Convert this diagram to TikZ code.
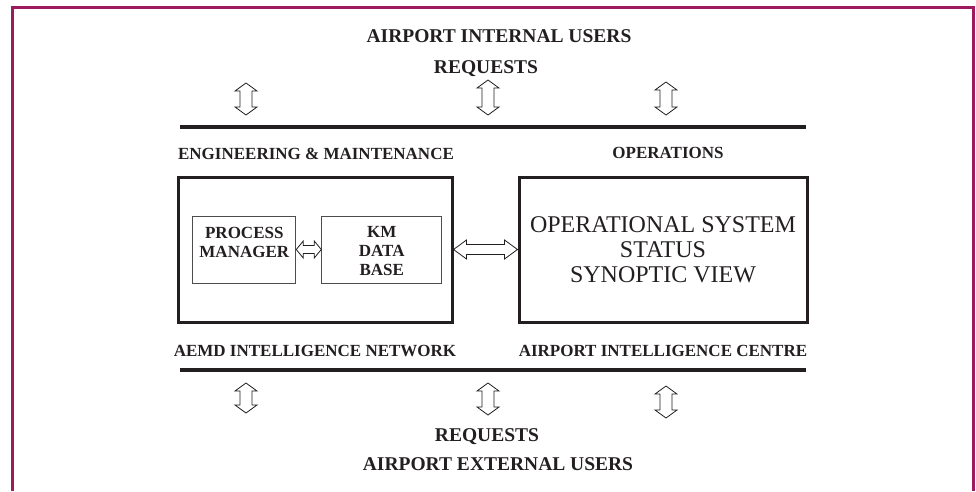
\documentclass[tikz,border=0pt]{standalone}
\usepackage{fontspec}
\setmainfont{Liberation Serif}
\usetikzlibrary{calc}
\definecolor{framec}{RGB}{158,26,94}
\definecolor{ink}{RGB}{35,31,32}
% hollow horizontal double arrow between two points: #1 left, #2 right, #3 head length, #4 head half width, #5 shaft half width
\newcommand\hollowh[5]{\draw[hollow] (#1) -- ($(#1)+(#3,#4)$) -- ($(#1)+(#3,#5)$) -- ($(#2)+(-#3,#5)$) -- ($(#2)+(-#3,#4)$) -- (#2) -- ($(#2)+(-#3,-#4)$) -- ($(#2)+(-#3,-#5)$) -- ($(#1)+(#3,-#5)$) -- ($(#1)+(#3,-#4)$) -- cycle;}
% hollow vertical double arrow: #1 top, #2 bottom
\newcommand\hollowv[5]{\draw[hollow] (#1) -- ($(#1)+(#4,#3)$) -- ($(#1)+(#5,#3)$) -- ($(#2)+(#5,-#3)$) -- ($(#2)+(#4,-#3)$) -- (#2) -- ($(#2)+(-#4,-#3)$) -- ($(#2)+(-#5,-#3)$) -- ($(#1)+(-#5,#3)$) -- ($(#1)+(-#4,#3)$) -- cycle;}
\begin{document}
\begin{tikzpicture}[x=1pt,y=-1pt,
  lbl/.style={font=\fontsize{17}{19}\selectfont\bfseries, text=ink, inner sep=0pt},
  title/.style={font=\fontsize{19.5}{22}\selectfont\bfseries, text=ink, inner sep=0pt},
  bigbox/.style={draw=ink, line width=3pt, inner sep=0pt},
  smallbox/.style={draw=ink!80, line width=0.9pt, inner sep=0pt},
  boxtext/.style={font=\fontsize{17}{19}\selectfont\bfseries, text=ink, align=center, inner sep=0pt},
  hollow/.style={draw=ink, line width=0.8pt, fill=white, line join=miter},
  bar/.style={draw=ink, line width=4pt}]
\useasboundingbox (0,0) rectangle (976,491);
% frame
\draw[framec, line width=3pt] (12,491) -- (12,7) -- (973,7) -- (973,491);
% titles
\node[title, anchor=base] (tin) at (499,42) {AIRPORT INTERNAL USERS};
\node[title, anchor=base] (treq) at (486,73) {REQUESTS};
\node[title, anchor=base] (breq) at (487,441) {REQUESTS};
\node[title, anchor=base] (bext) at (498,470) {AIRPORT EXTERNAL USERS};
% bars
\draw[bar] (180,127) -- (806,127);
\draw[bar] (180,370) -- (806,370);
% labels
\node[lbl, anchor=base] (em) at (316,159) {ENGINEERING \& MAINTENANCE};
\node[lbl, anchor=base] (ops) at (668,158) {OPERATIONS};
\node[lbl, anchor=base] (net) at (315,356) {AEMD INTELLIGENCE NETWORK};
\node[lbl, anchor=base] (cen) at (663,356) {AIRPORT INTELLIGENCE CENTRE};
% boxes
\node[bigbox, minimum width=274, minimum height=145] (aemd) at (315,249.5) {};
\node[bigbox, minimum width=288, minimum height=145, align=center,
      font=\fontsize{24}{25}\selectfont, text=ink] (aic) at (663,249.5)
      {OPERATIONAL SYSTEM\\STATUS\\SYNOPTIC VIEW};
\node[smallbox, minimum width=103, minimum height=67] (pm) at (244.3,249.5) {};
\node[boxtext] (pmt) at (244.3,242) {PROCESS\\MANAGER};
\node[smallbox, minimum width=120, minimum height=67] (km) at (381.7,249.5) {};
\node[boxtext] (kmt) at (381.7,251) {KM\\DATA\\BASE};
% horizontal double arrows
\hollowh{pm.east}{km.west}{7}{8.5}{4}
\hollowh{aemd.east}{aic.west}{13}{9.5}{5}
% vertical double arrows
\coordinate (ta1) at (246,83);  \coordinate (tb1) at (246,115);
\coordinate (ta2) at (488,80);  \coordinate (tb2) at (488,115);
\coordinate (ta3) at (666,82);  \coordinate (tb3) at (666,115);
\coordinate (ba1) at (246,383); \coordinate (bb1) at (246,413);
\coordinate (ba2) at (488,383); \coordinate (bb2) at (488,415);
\coordinate (ba3) at (666,386); \coordinate (bb3) at (666,418);
\hollowv{ta1}{tb1}{8}{11}{6}
\hollowv{ta2}{tb2}{8}{11}{6}
\hollowv{ta3}{tb3}{8}{11}{6}
\hollowv{ba1}{bb1}{8}{11}{6}
\hollowv{ba2}{bb2}{8}{11}{6}
\hollowv{ba3}{bb3}{8}{11}{6}
\end{tikzpicture}
\end{document}
